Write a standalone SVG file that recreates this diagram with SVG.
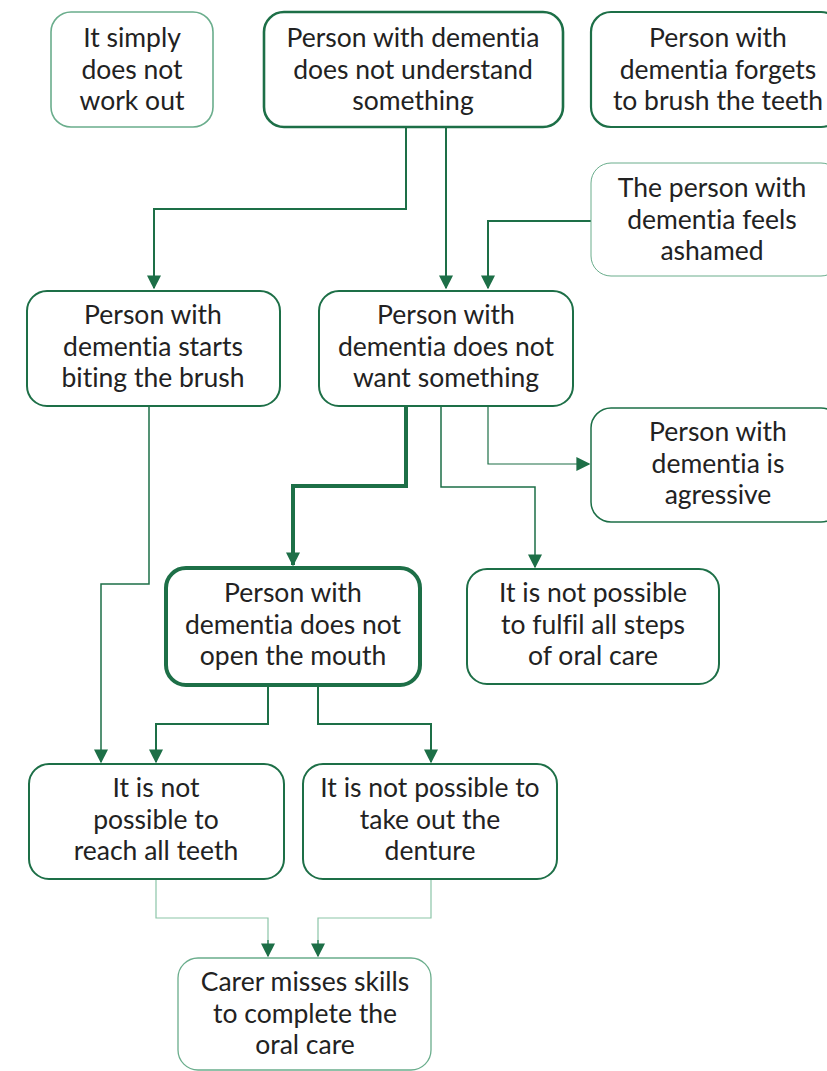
<svg xmlns="http://www.w3.org/2000/svg" width="827" height="1071" viewBox="0 0 827 1071">
<style>
.box{fill:#fff;stroke:#1d6f47}
.lt{stroke:#6aad8c}
.t{font-family:Lato,"Liberation Sans",sans-serif;font-size:26.5px;fill:#222;text-anchor:middle;font-variant-ligatures:no-common-ligatures}
.c{fill:none;stroke:#1d6f47}
.cl{fill:none;stroke:#8cc5a8;stroke-width:1.2}
</style>
<defs>
<marker id="a" viewBox="0 0 10 10" refX="9" refY="5" markerWidth="14" markerHeight="14" markerUnits="userSpaceOnUse" orient="auto"><path d="M0,0L10,5L0,10z" fill="#1d6f47"/></marker>
</defs>
<rect width="827" height="1071" fill="#fff"/>
<g id="connectors">
<path class="c" stroke-width="2" d="M406,127V209H154V288" marker-end="url(#a)"/>
<path class="c" stroke-width="2" d="M446,127V288" marker-end="url(#a)"/>
<path class="c" stroke-width="2" d="M591,221H488V288" marker-end="url(#a)"/>
<path class="c" stroke-width="1.5" d="M149,406V584H101V762" marker-end="url(#a)"/>
<path class="c" stroke-width="4" d="M406,406V486H293V565" marker-end="url(#a)"/>
<path class="c" stroke-width="1.5" d="M441,406V487H535V567" marker-end="url(#a)"/>
<path class="c" stroke-width="1.2" d="M488,406V464H589" marker-end="url(#a)"/>
<path class="c" stroke-width="2" d="M268,686V724H156V762" marker-end="url(#a)"/>
<path class="c" stroke-width="2" d="M318,686V724H431V762" marker-end="url(#a)"/>
<path class="cl" d="M156,879V918H268V945"/>
<path class="c" stroke-width="1.2" d="M268,940V956" marker-end="url(#a)"/>
<path class="cl" d="M431,879V918H318V945"/>
<path class="c" stroke-width="1.2" d="M318,940V956" marker-end="url(#a)"/>
</g>
<g id="n1"><rect class="box lt" x="51" y="12" width="162" height="115" rx="20" stroke-width="1.6"/>
<text class="t" x="132" y="47">It simply</text><text class="t" x="132" y="79">does not</text><text class="t" x="132" y="110">work out</text></g>
<g id="n2"><rect class="box" x="264" y="12" width="299" height="115" rx="20" stroke-width="2.6"/>
<text class="t" x="413" y="47">Person with dementia</text><text class="t" x="413" y="79">does not understand</text><text class="t" x="413" y="110">something</text></g>
<g id="n3"><rect class="box" x="591" y="12" width="250" height="115" rx="20" stroke-width="2.2"/>
<text class="t" x="718" y="47">Person with</text><text class="t" x="718" y="79">dementia forgets</text><text class="t" x="718" y="110">to brush the teeth</text></g>
<g id="n4"><rect class="box lt" x="591" y="163" width="250" height="113" rx="20" stroke-width="1"/>
<text class="t" x="712" y="197">The person with</text><text class="t" x="712" y="229">dementia feels</text><text class="t" x="712" y="260">ashamed</text></g>
<g id="n5"><rect class="box" x="27" y="291" width="253" height="115" rx="20" stroke-width="2"/>
<text class="t" x="153" y="324">Person with</text><text class="t" x="153" y="356">dementia starts</text><text class="t" x="153" y="387">biting the brush</text></g>
<g id="n6"><rect class="box" x="319" y="291" width="254" height="115" rx="20" stroke-width="2"/>
<text class="t" x="446" y="324">Person with</text><text class="t" x="446" y="356">dementia does not</text><text class="t" x="446" y="387">want something</text></g>
<g id="n7"><rect class="box" x="591" y="408" width="250" height="114" rx="20" stroke-width="1.5"/>
<text class="t" x="718" y="441">Person with</text><text class="t" x="718" y="473">dementia is</text><text class="t" x="718" y="504">agressive</text></g>
<g id="n8"><rect class="box" x="467" y="569" width="252" height="115" rx="20" stroke-width="2"/>
<text class="t" x="593" y="602">It is not possible</text><text class="t" x="593" y="634">to fulfil all steps</text><text class="t" x="593" y="665">of oral care</text></g>
<g id="n9"><rect class="box" x="166" y="568" width="254" height="117" rx="20" stroke-width="4"/>
<text class="t" x="293" y="602">Person with</text><text class="t" x="293" y="634">dementia does not</text><text class="t" x="293" y="665">open the mouth</text></g>
<g id="n10"><rect class="box" x="29" y="764" width="255" height="115" rx="20" stroke-width="2"/>
<text class="t" x="156" y="797">It is not</text><text class="t" x="156" y="829">possible to</text><text class="t" x="156" y="860">reach all teeth</text></g>
<g id="n11"><rect class="box" x="303" y="764" width="254" height="115" rx="20" stroke-width="2"/>
<text class="t" x="430" y="797">It is not possible to</text><text class="t" x="430" y="829">take out the</text><text class="t" x="430" y="860">denture</text></g>
<g id="n12"><rect class="box lt" x="178" y="958" width="253" height="112" rx="20" stroke-width="1.3"/>
<text class="t" x="305" y="991">Carer misses skills</text><text class="t" x="305" y="1023">to complete the</text><text class="t" x="305" y="1054">oral care</text></g>
</svg>
